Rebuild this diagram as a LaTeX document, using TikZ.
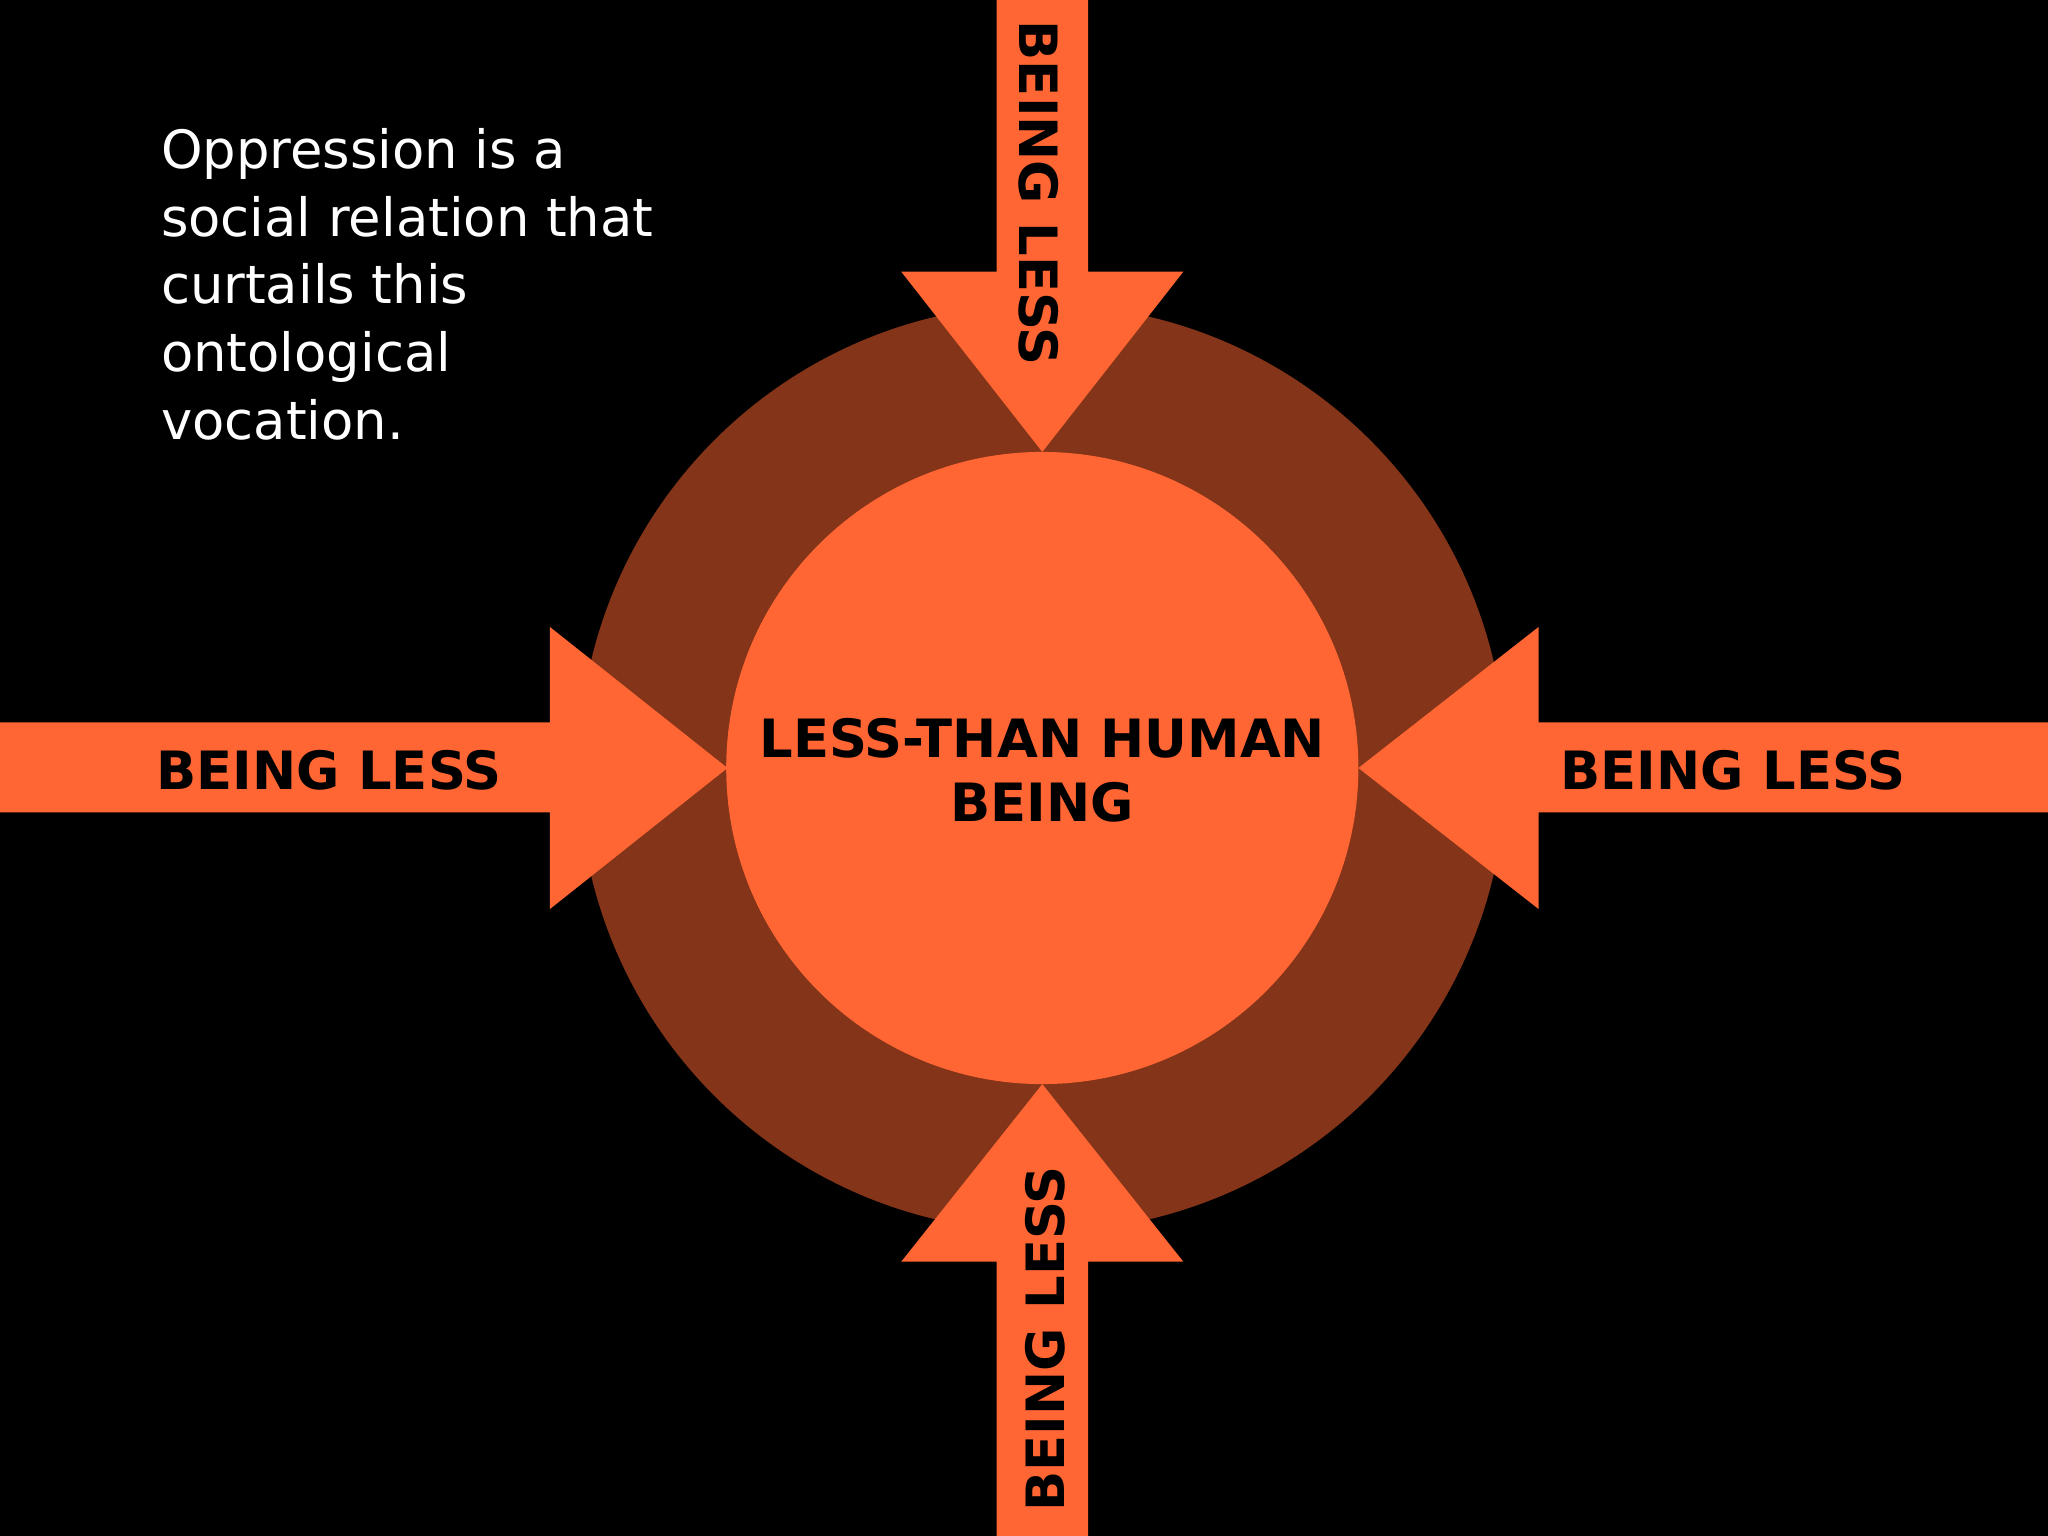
\documentclass[tikz,border=0pt]{standalone}
\usepackage{fontspec}
\setmainfont{DejaVu Sans}
\definecolor{org}{HTML}{FF6633}
\definecolor{dark}{HTML}{843418}
\tikzset{lbl/.style={font=\bfseries\fontsize{23}{27}\selectfont, text=black, inner sep=0pt},
 arr/.style={fill=org, draw=none}}
\begin{document}
\begin{tikzpicture}[x=0.02cm,y=-0.02cm]
\fill[black] (0,0) rectangle (1568,1176);
\useasboundingbox (0,0) rectangle (1568,1176);
\fill[dark] (798,588) circle[radius=355];
\fill[org] (798,588) circle[radius=242];
\node[circle, minimum size=9.68cm, inner sep=0pt] (core) at (798,588) {};
% arrows
\fill[arr] (763,0) -- (833,0) -- (833,208) -- (906,208) -- (798,346) -- (690,208) -- (763,208) -- cycle;
\fill[arr] (763,1176) -- (833,1176) -- (833,966) -- (906,966) -- (798,830) -- (690,966) -- (763,966) -- cycle;
\fill[arr] (0,553) -- (421,553) -- (421,480) -- (557,588) -- (421,696) -- (421,622) -- (0,622) -- cycle;
\fill[arr] (1568,553) -- (1178,553) -- (1178,480) -- (1040,588) -- (1178,696) -- (1178,622) -- (1568,622) -- cycle;
\node[lbl, rotate=-90] (t) at (795,148) {BEING LESS};
\node[lbl, rotate=90] (b) at (800,1025) {BEING LESS};
\node[lbl] (l) at (252,590) {BEING LESS};
\node[lbl] (r) at (1327,590) {BEING LESS};
\node[lbl, align=center, font=\bfseries\fontsize{23}{28}\selectfont] (c) at (798,590) {LESS-THAN HUMAN\\BEING};
\node[anchor=north west, text=white, align=left, inner sep=0pt, font=\fontsize{23}{29.5}\selectfont] (q) at (123,98)
 {Oppression is a\\social relation that\\curtails this\\ontological\\vocation.};
\end{tikzpicture}
\end{document}
